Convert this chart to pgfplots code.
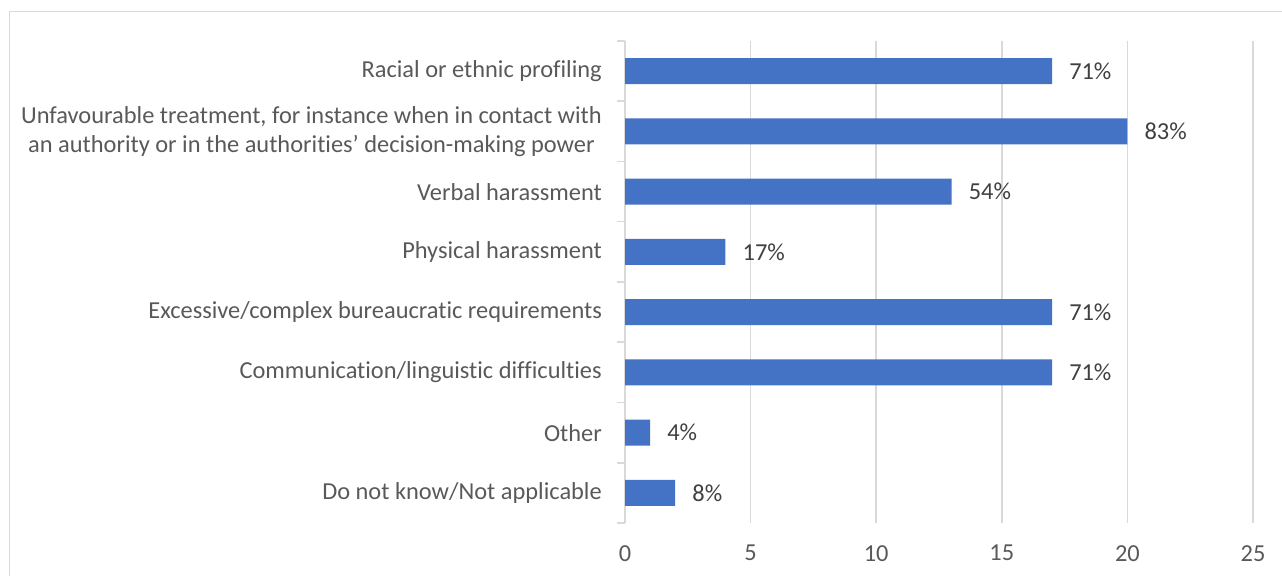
\documentclass[border=0pt]{standalone}
\usepackage{pgfplots}
\pgfplotsset{compat=1.18}
\usepackage{pgfplotstable}
\usepackage{fontspec}
\setmainfont{Carlito}[Ligatures=NoCommon]
\definecolor{barblue}{HTML}{4472C4}
\definecolor{gridgrey}{HTML}{D9D9D9}
\definecolor{ticktext}{HTML}{595959}
\definecolor{labeltext}{HTML}{404040}

\pgfplotstableread{
y x pct
0 17 71
1 20 83
2 13 54
3 4 17
4 17 71
5 17 71
6 1 4
7 2 8
}\datatable

\begin{document}
\begin{tikzpicture}[x=1bp,y=1bp]
\useasboundingbox (0,0) rectangle (1282,576);
\draw[gridgrey, line width=1.8bp] (9.5,0) -- (9.5,564.5) -- (1282,564.5);
\begin{axis}[
  at={(625bp,53bp)}, anchor=south west,
  width=628bp, height=482bp, scale only axis,
  xmin=0, xmax=25, ymin=-0.5, ymax=7.5, y dir=reverse,
  axis line style={draw=none},
  xtick={0,5,...,25},
  ytick={0,...,7},
  minor ytick={-0.5,0.5,...,7.5},
  ytick pos=left,
  tick align=outside,
  major tick length=0pt,
  minor tick length=8bp,
  xtick style={draw=none},
  ytick style={draw=gridgrey, line width=1.5bp},
  xmajorgrids,
  major grid style={draw=gridgrey, line width=1.5bp},
  /pgf/number format/assume math mode=true,
  yticklabels={
    {Racial or ethnic profiling},
    {Unfavourable treatment, for instance when in contact with\\an authority or in the authorities’ decision-making power},
    {Verbal harassment},
    {Physical harassment},
    {Excessive/complex bureaucratic requirements},
    {Communication/linguistic difficulties},
    {Other},
    {Do not know/Not applicable}},
  yticklabel style={font=\fontsize{24.4bp}{29bp}\selectfont, text=ticktext, align=center, anchor=east, inner sep=0pt, xshift=-23bp},
  xticklabel style={font=\fontsize{24.4bp}{29bp}\selectfont, text=ticktext, anchor=north, inner sep=0pt, yshift=-22bp},
  point meta=explicit symbolic,
  nodes near coords={\pgfplotspointmeta\%},
  every node near coord/.append style={font=\fontsize{24.4bp}{29bp}\selectfont, text=labeltext, anchor=west, inner sep=0pt, xshift=17bp},
]
\addplot[xbar, bar width=26bp, fill=barblue, draw=none] table[x=x, y=y, meta=pct] {\datatable};
\end{axis}
\end{tikzpicture}
\end{document}
